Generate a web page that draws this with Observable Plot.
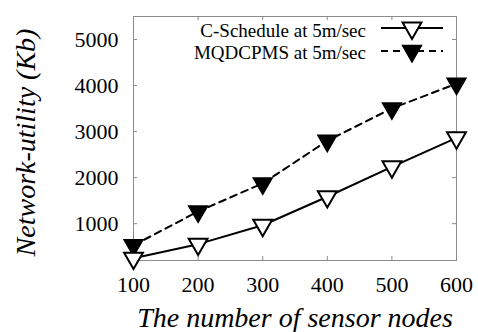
<!DOCTYPE html>
<html><head><meta charset="utf-8">
<script src="https://cdn.jsdelivr.net/npm/d3@7"></script>
<script src="https://cdn.jsdelivr.net/npm/@observablehq/plot@0.6"></script>
<style>body{margin:0;background:#fff}</style>
</head><body><div id="chart"></div>
<script>
const nodes = [100, 200, 300, 400, 500, 600];
const cSchedule = [250, 555, 965, 1585, 2235, 2865];
const mqdcpms = [530, 1265, 1875, 2800, 3505, 4040];
const seriesNames = ["C-Schedule at 5m/sec", "MQDCPMS at 5m/sec"];
const xTicks = [100, 200, 300, 400, 500, 600];
const yTicks = [1000, 2000, 3000, 4000, 5000];

const c = nodes.map((n, i) => ({x: n, y: cSchedule[i], s: seriesNames[0]}));
const m = nodes.map((n, i) => ({x: n, y: mqdcpms[i], s: seriesNames[1]}));

const W = 478, H = 332, mL = 133, mR = 22, mT = 16, mB = 72;
const fw = W - mL - mR, fh = H - mT - mB;
const gray = "#8c8c8c";
const serif = "Liberation Serif";

const triDown = {
  draw(ctx, size) {
    const s = Math.sqrt(size) * 0.6824, t = s / 2, u = s * Math.sqrt(3) / 2;
    ctx.moveTo(0, s); ctx.lineTo(u, -t); ctx.lineTo(-u, -t); ctx.closePath();
  }
};

const chart = Plot.plot({
  width: W, height: H, marginLeft: mL, marginRight: mR, marginTop: mT, marginBottom: mB,
  style: {fontFamily: serif, fontSize: "22px", color: "#000", background: "#fff"},
  x: {domain: [100, 600], ticks: xTicks, label: null},
  y: {domain: [200, 5500], ticks: yTicks, label: null},
  marks: [
    Plot.frame({stroke: gray}),
    Plot.tickX(xTicks, {x: d => d, stroke: gray, insetTop: fh - 4}),
    Plot.tickX(xTicks, {x: d => d, stroke: gray, insetBottom: fh - 4}),
    Plot.tickY(yTicks, {y: d => d, stroke: gray, insetRight: fw - 4}),
    Plot.tickY(yTicks, {y: d => d, stroke: gray, insetLeft: fw - 4}),
    Plot.axisX({ticks: xTicks, tickSize: 0, tickPadding: 16, fontSize: 22, fontFamily: serif, fontVariant: "normal", tickFormat: d => String(d)}),
    Plot.axisY({ticks: yTicks, tickSize: 0, tickPadding: 15, fontSize: 22, fontFamily: serif, fontVariant: "normal", tickFormat: d => String(d)}),
    Plot.line(m, {x: "x", y: "y", stroke: "black", strokeWidth: 2, strokeDasharray: "7,5"}),
    Plot.line(c, {x: "x", y: "y", stroke: "black", strokeWidth: 2}),
    Plot.dot(m, {x: "x", y: "y", symbol: triDown, r: 9, fill: "black", stroke: "black", strokeWidth: 1.5}),
    Plot.dot(c, {x: "x", y: "y", symbol: triDown, r: 9, fill: "white", stroke: "black", strokeWidth: 2}),
    Plot.text(["The number of sensor nodes"], {frameAnchor: "bottom", dy: 58, fontSize: 28, fontFamily: serif, fontStyle: "italic", lineAnchor: "middle"}),
    Plot.text(["Network-utility (Kb)"], {frameAnchor: "left", dx: -107, dy: 4, rotate: -90, textAnchor: "middle", fontSize: 28, fontFamily: serif, fontStyle: "italic", lineAnchor: "middle"})
  ]
});
document.getElementById("chart").appendChild(chart);

// legend
const svg = d3.select(chart);
const lg = svg.append("g").attr("font-family", serif).attr("font-size", 19);
const sym = d3.symbol().type(triDown).size(Math.PI * 81);
const rowsL = [
  {name: seriesNames[0], ly: 28, ty: 36.5, dash: null, fill: "white"},
  {name: seriesNames[1], ly: 51, ty: 59, dash: "7,5", fill: "black"}
];
rowsL.forEach(r => {
  lg.append("text").attr("x", 366).attr("y", r.ty).attr("text-anchor", "end").text(r.name);
  lg.append("line").attr("x1", 381).attr("x2", 443).attr("y1", r.ly).attr("y2", r.ly)
    .attr("stroke", "black").attr("stroke-width", 2).attr("stroke-dasharray", r.dash);
  lg.append("path").attr("d", sym()).attr("transform", `translate(412,${r.ly})`)
    .attr("fill", r.fill).attr("stroke", "black").attr("stroke-width", r.fill === "black" ? 1.5 : 2);
});
</script>
</body></html>
